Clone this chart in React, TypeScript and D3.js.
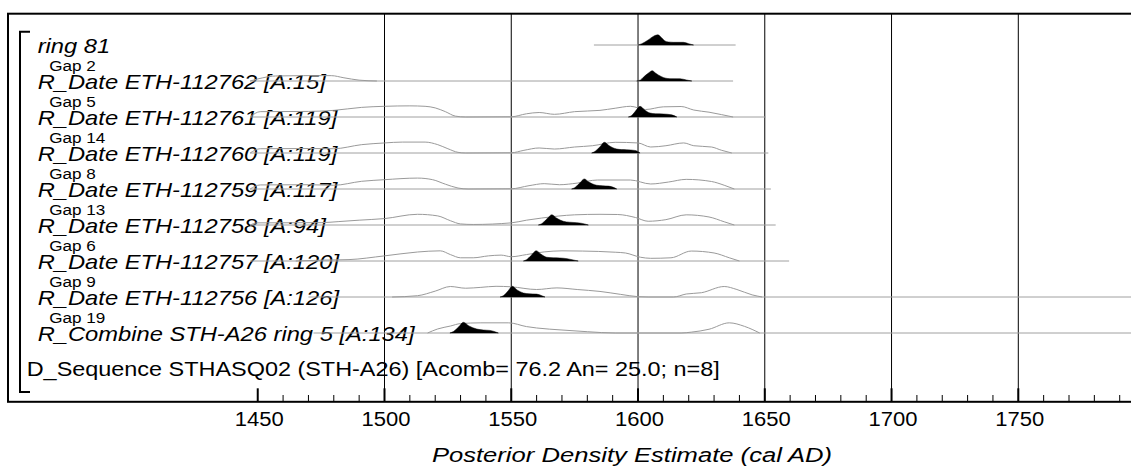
import * as d3 from 'd3'

// OxCal multi-plot: D_Sequence STHASQ02 (STH-A26)

const labels = [
  'ring 81',
  'R_Date ETH-112762 [A:15]',
  'R_Date ETH-112761 [A:119]',
  'R_Date ETH-112760 [A:119]',
  'R_Date ETH-112759 [A:117]',
  'R_Date ETH-112758 [A:94]',
  'R_Date ETH-112757 [A:120]',
  'R_Date ETH-112756 [A:126]',
  'R_Combine STH-A26 ring 5 [A:134]',
]
const gaps = [null, 'Gap 2', 'Gap 5', 'Gap 14', 'Gap 8', 'Gap 13', 'Gap 6', 'Gap 9', 'Gap 19']
const sequenceLabel = 'D_Sequence STHASQ02 (STH-A26) [Acomb= 76.2 An= 25.0; n=8]'

// year range of each row's baseline
const ranges = [
  [1582.6, 1638.5],
  [1447, 1637.5],
  [1447, 1650.4],
  [1447, 1651.4],
  [1447, 1652.4],
  [1447, 1654.3],
  [1447, 1659.6],
  [1470, 1800],
  [1472, 1800],
]

// unmodelled likelihoods, [year, relative density %]
const likelihoods = [
  [],
  [[1447, 0], [1452, 30], [1457, 47], [1468, 50], [1479, 50], [1484, 30], [1490, 8], [1497, 0]],
  [[1447, 0], [1451, 50], [1470, 52], [1480, 62], [1491, 90], [1500, 100], [1510, 104], [1516, 100], [1520, 85], [1524, 50], [1528, 8], [1532, 0],
   [1550, 2], [1556, 30], [1561, 42], [1567, 25], [1575, 50], [1585, 62], [1591, 82], [1597, 100], [1603, 70], [1610, 95], [1617, 98], [1622, 65], [1628, 45], [1633, 22], [1637.5, 0]],
  [[1447, 0], [1451, 40], [1470, 42], [1480, 40], [1491, 78], [1500, 94], [1507, 102], [1516, 102], [1521, 78], [1525, 40], [1529, 6], [1532, 0],
   [1550, 2], [1555, 25], [1561, 47], [1567, 37], [1575, 56], [1582, 68], [1591, 100], [1600, 94], [1605, 56], [1611, 68], [1618, 94], [1622, 68], [1629, 56], [1633, 25], [1637, 0]],
  [[1447, 0], [1451, 38], [1470, 40], [1480, 35], [1491, 72], [1500, 87], [1513, 102], [1519, 87], [1524, 45], [1529, 9], [1533, 0],
   [1550, 2], [1557, 31], [1563, 50], [1569, 40], [1576, 55], [1584, 84], [1597, 84], [1605, 47], [1612, 65], [1619, 90], [1629, 70], [1634, 35], [1638, 0]],
  [[1447, 0], [1450, 20], [1475, 22], [1482, 32], [1490, 45], [1500, 60], [1513, 100], [1521, 85], [1526, 40], [1530, 10], [1535, 5],
   [1550, 20], [1556, 45], [1562, 65], [1575, 95], [1585, 100], [1592, 98], [1599, 70], [1604, 35], [1611, 50], [1619, 95], [1628, 75], [1634, 30], [1638, 0]],
  [[1465, 0], [1475, 8], [1486, 13], [1500, 48], [1513, 84], [1522, 95], [1526, 60], [1530, 30], [1535, 30], [1541, 48], [1546, 55], [1550, 40],
   [1556, 60], [1563, 85], [1570, 95], [1578, 93], [1591, 82], [1595, 75], [1601, 35], [1605, 25], [1613, 30], [1621, 93], [1630, 75], [1636, 30], [1640, 0]],
  [[1503, 0], [1513, 12], [1520, 55], [1526, 98], [1532, 82], [1538, 90], [1544, 100], [1550, 95], [1560, 70], [1568, 85], [1576, 70], [1585, 52], [1593, 25], [1600, 3], [1604, 0],
   [1614, 0], [1619, 28], [1625, 40], [1634, 98], [1639, 70], [1645, 20], [1649, 0]],
  [[1517, 0], [1521, 38], [1526, 65], [1530, 88], [1538, 95], [1549, 95], [1556, 60], [1560, 47], [1570, 28], [1580, 12], [1591, 0],
   [1617, 0], [1621, 8], [1628, 35], [1636, 95], [1642, 62], [1648, 0]],
]

// modelled posteriors, [year, relative density %]
const posteriors = [
  [[1600.1, 0], [1601.5, 12], [1604, 47], [1606, 80], [1607.8, 95], [1609.3, 68], [1610.6, 38], [1612, 28], [1613.9, 25], [1617.9, 25], [1620, 12], [1621.9, 0]],
  [[1599.5, 0], [1601, 10], [1602.1, 35], [1604, 72], [1605.6, 96], [1607, 72], [1609.3, 40], [1611, 26], [1612.6, 22], [1616.6, 21], [1619, 10], [1621.2, 0]],
  [[1596.2, 0], [1597.5, 14], [1599, 55], [1600.8, 100], [1602.5, 68], [1604.7, 37], [1607, 30], [1610, 28], [1613.3, 20], [1615.3, 0]],
  [[1581.7, 0], [1583, 14], [1585, 58], [1586.7, 100], [1588.5, 70], [1591.6, 37], [1593.5, 32], [1595.5, 30], [1598.8, 24], [1600.8, 0]],
  [[1573.8, 0], [1575, 12], [1577, 55], [1578.8, 94], [1580.6, 65], [1583.7, 35], [1586, 30], [1588.3, 27], [1590, 18], [1591.6, 0]],
  [[1560.7, 0], [1562, 12], [1564, 55], [1566, 96], [1568, 62], [1570.5, 35], [1573, 26], [1575.8, 22], [1578, 15], [1580.4, 0]],
  [[1554.8, 0], [1556, 12], [1558, 55], [1559.8, 96], [1561.8, 62], [1564, 35], [1566.5, 30], [1569.2, 28], [1572, 22], [1574, 12], [1576.4, 0]],
  [[1545.6, 0], [1547, 14], [1548.8, 58], [1550.4, 100], [1552.3, 66], [1554.8, 37], [1557, 30], [1560, 27], [1561.8, 15], [1563.3, 0]],
  [[1525.8, 0], [1527.2, 14], [1529.3, 58], [1531.1, 100], [1533.3, 66], [1536.4, 37], [1539, 28], [1541.6, 24], [1543.3, 14], [1544.9, 0]],
]

const majorTicks = [1450, 1500, 1550, 1600, 1650, 1700, 1750]
const gridYears = [1500, 1550, 1600, 1650, 1700, 1750]
const minorTicks = d3.range(1450, 1800, 10).filter(v => v % 50 !== 0)

const W = 1131
const H = 471
const FONT = "Arial, 'Liberation Sans', Helvetica, sans-serif"

const x = d3.scaleLinear().domain([1500, 1750]).range([384.5, 1018.3])
const rowY = d3.scaleLinear().domain([0, 1]).range([45, 81])
const dens = d3.scaleLinear().domain([0, 100]).range([0, 10.7])

const frame = { left: 8, top: 13.7, bottom: 401.8 }

function Label({ px, py, size, italic, anchor, stretch = 1.13, children }) {
  return (
    <text
      transform={`translate(${px},${py}) scale(${stretch},1)`}
      fontSize={size}
      fontFamily={FONT}
      fontStyle={italic ? 'italic' : 'normal'}
      textAnchor={anchor || 'start'}
      fill="#000"
    >
      {children}
    </text>
  )
}

export default function App() {
  return (
    <svg width={W} height={H} style={{ position: 'absolute', left: 0, top: 0, background: '#fff' }}>
      <rect x={0} y={0} width={W} height={H} fill="#fff" />

      {/* grid */}
      {gridYears.map(g => (
        <line key={g} x1={x(g)} x2={x(g)} y1={frame.top} y2={frame.bottom} stroke="#000" strokeWidth={1} />
      ))}

      {/* row labels */}
      {labels.map((l, i) => (
        <Label key={l} px={37.7} py={rowY(i) + 8.3} size={20.8} italic stretch={1.14}>{l}</Label>
      ))}
      {gaps.map((g, i) => g && (
        <Label key={g} px={49.3} py={rowY(i) - 10} size={14.5} stretch={1.18}>{g}</Label>
      ))}
      <Label px={26.7} py={rowY(9) + 7} size={20} stretch={1.172}>{sequenceLabel}</Label>

      {/* distributions */}
      {labels.map((l, i) => {
        const base = rowY(i)
        const line = d3.line().x(d => x(d[0])).y(d => base - dens(d[1])).curve(d3.curveMonotoneX)
        const area = d3.area().x(d => x(d[0])).y0(base).y1(d => base - dens(d[1])).curve(d3.curveMonotoneX)
        return (
          <g key={'d' + i}>
            <line x1={x(ranges[i][0])} x2={x(ranges[i][1])} y1={base} y2={base} stroke="#a0a0a0" strokeWidth={1} />
            {likelihoods[i].length > 0 && (
              <path d={line(likelihoods[i])} fill="none" stroke="#9a9a9a" strokeWidth={1} />
            )}
            <path d={area(posteriors[i])} fill="#000" stroke="#000" strokeWidth={0.5} />
          </g>
        )
      })}

      {/* sequence bracket */}
      <path d={`M30,31.7H20V392H30`} fill="none" stroke="#000" strokeWidth={2} />

      {/* frame */}
      <rect x={frame.left} y={frame.top} width={W + 20} height={frame.bottom - frame.top} fill="none" stroke="#000" strokeWidth={2} />

      {/* axis ticks */}
      {majorTicks.map(t => (
        <line key={'M' + t} x1={x(t)} x2={x(t)} y1={388.3} y2={frame.bottom} stroke="#000" strokeWidth={2} />
      ))}
      {minorTicks.map(t => (
        <line key={'m' + t} x1={x(t)} x2={x(t)} y1={395} y2={frame.bottom} stroke="#000" strokeWidth={1} />
      ))}
      {majorTicks.map(t => (
        <Label key={'L' + t} px={x(t) + 1.5} py={425.7} size={19.5} anchor="middle">{t}</Label>
      ))}

      <Label px={632} py={461.7} size={21} italic anchor="middle" stretch={1.22}>Posterior Density Estimate (cal AD)</Label>
    </svg>
  )
}
